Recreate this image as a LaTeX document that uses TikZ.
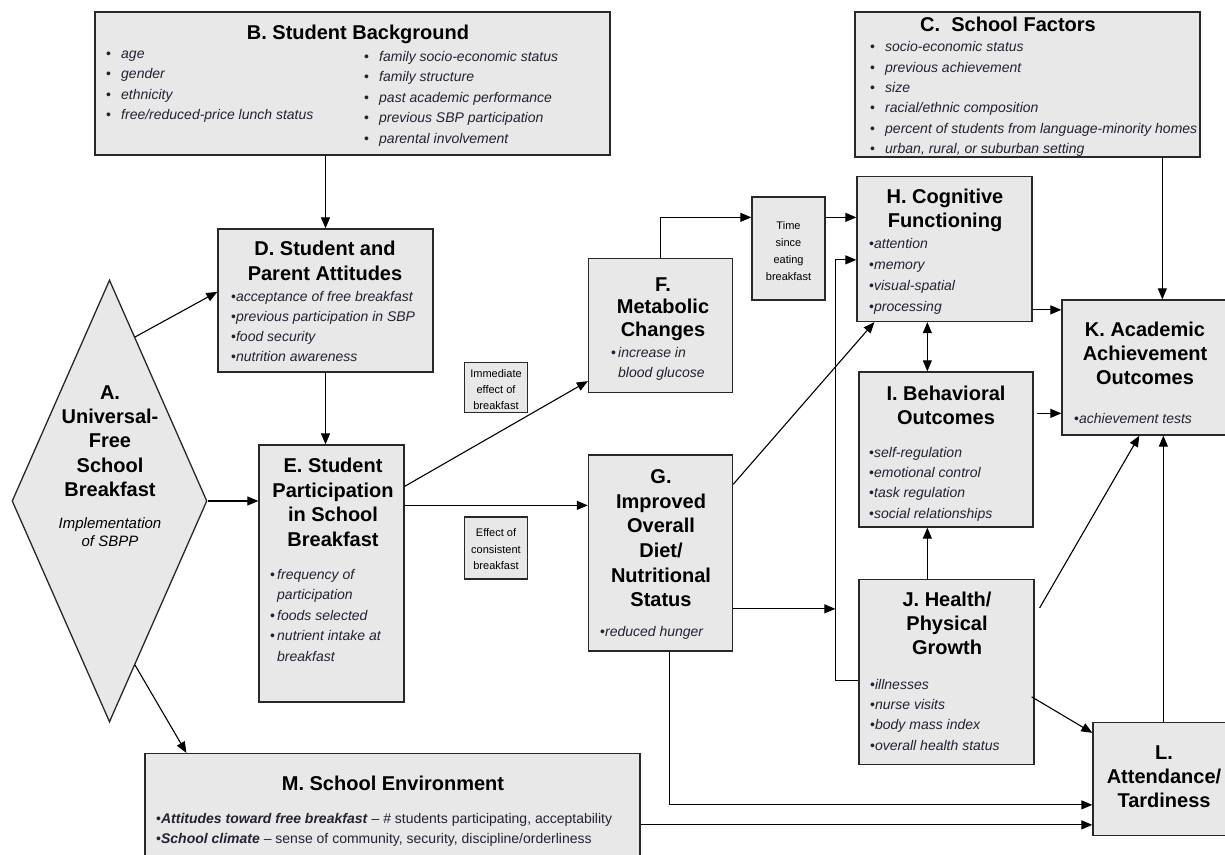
\documentclass[tikz,border=0pt]{standalone}
\usepackage{fontspec}
\setmainfont{Liberation Sans}
\usetikzlibrary{arrows.meta,calc,shapes.geometric}
\definecolor{boxfill}{RGB}{232,232,232}
\definecolor{boxline}{RGB}{40,40,40}
\definecolor{listtext}{RGB}{34,34,50}
\newcommand\blw{{\upshape\makebox[15pt][l]{•}}}
\newcommand\bln{{\upshape\makebox[7pt][l]{•}}}
\newcommand\blt{{\upshape•}}
\begin{document}
\begin{tikzpicture}[x=1pt,y=-1pt,
  box/.style={draw=boxline, fill=boxfill, line width=1.3pt, inner sep=0pt, rectangle},
  dia/.style={draw=boxline, fill=boxfill, line width=1.3pt, inner sep=0pt, diamond},
  ttl/.style={font=\fontsize{20}{24.5}\selectfont\bfseries, align=center, inner sep=0pt, anchor=north, execute at begin node=\strut},
  lst/.style={font=\fontsize{14}{20.5}\selectfont\itshape, text=listtext, align=left, inner sep=0pt, anchor=north west, execute at begin node=\strut},
  sml/.style={font=\fontsize{11}{17}\selectfont, align=center, inner sep=0pt, anchor=north, execute at begin node=\strut},
  arr/.style={draw=black, line width=1.1pt, -{Triangle[length=11pt,width=9pt]}},
  arrboth/.style={draw=black, line width=1.1pt, {Triangle[length=11pt,width=9pt]}-{Triangle[length=11pt,width=9pt]}},
]
\useasboundingbox (0,0) rectangle (1225,854);

% ---------- boxes ----------
\node[box, minimum width=515pt, minimum height=143pt] (B) at (352.5,83.5) {};
\node[box, minimum width=345pt, minimum height=145pt] (C) at (1027.5,84.5) {};
\node[box, minimum width=215pt, minimum height=143pt] (D) at (325.5,300.5) {};
\node[box, minimum width=145pt, minimum height=257pt] (E) at (331.5,573.5) {};
\node[box, minimum width=144pt, minimum height=134pt] (F) at (660.5,325.5) {};
\node[box, minimum width=73pt, minimum height=103pt] (T) at (788.5,248.5) {};
\node[box, minimum width=63pt, minimum height=50pt] (Im) at (496,387.5) {};
\node[box, minimum width=63pt, minimum height=62pt] (Ef) at (496,548) {};
\node[box, minimum width=144pt, minimum height=196pt] (G) at (660.5,553) {};
\node[box, minimum width=175pt, minimum height=145pt] (H) at (944.5,249) {};
\node[box, minimum width=174pt, minimum height=155pt] (I) at (946,449.5) {};
\node[box, minimum width=175pt, minimum height=185pt] (J) at (946.5,672) {};
\node[box, minimum width=180pt, minimum height=135pt] (K) at (1152,367.5) {};
\node[box, minimum width=150pt, minimum height=113pt] (L) at (1168,779) {};
\node[box, minimum width=495pt, minimum height=120pt] (M) at (392.5,813.5) {};
\node[dia, minimum width=195pt, minimum height=442pt] (A) at (109.5,501) {};

% ---------- connector points ----------
\coordinate (ad) at ($(A.north)!0.26!(A.east)$);
\coordinate (da) at ($(D.north west)!0.44!(D.south west)$);
\coordinate (am) at ($(A.east)!0.74!(A.south)$);
\coordinate (ma) at ($(M.north west)+(42,0)$);
\coordinate (ef) at ($(E.north east)+(0,42)$);
\coordinate (fe) at ($(F.south west)+(0,-12)$);
\coordinate (eg) at ($(E.north east)+(0,61)$);
\coordinate (ft) at ($(T.north west)+(0,21)$);
\coordinate (th) at ($(T.north east)+(0,21)$);
\coordinate (jv) at ($(J.north west)+(0,102)$);
\coordinate (hv) at ($(H.north west)+(0,84)$);
\coordinate (gh) at ($(G.north east)+(0,30)$);
\coordinate (hg) at ($(H.south west)+(18,0)$);
\coordinate (gj) at ($(J.north west)+(-23,30)$);
\coordinate (gl) at ($(G.south)+(9,0)$);
\coordinate (lg) at ($(L.north west)+(0,83)$);
\coordinate (ml) at ($(M.north east)+(0,72)$);
\coordinate (hk) at ($(H.north east)+(0,134)$);
\coordinate (hi) at ($(H.south west)+(71,0)$);
\coordinate (ik) at ($(I.north east)+(3,42)$);
\coordinate (ji) at ($(J.north west)+(69,0)$);
\coordinate (jk) at ($(J.north east)+(5,29)$);
\coordinate (kj) at ($(K.south west)+(78,0)$);
\coordinate (lk) at ($(L.north west)+(71,0)$);
\coordinate (ck) at ($(C.south west)+(308,0)$);
\coordinate (jl) at ($(J.north east)+(-3,118)$);
\coordinate (lj) at ($(L.north west)+(0,11)$);

% ---------- connectors ----------
\draw[arr] (B.south -| D.north) -- (D.north);
\draw[arr] (D.south) -- (D.south |- E.north);
\draw[arr] (ad) -- (da);
\draw[arr] (A.east) -- (A.east -| E.west);
\draw[arr] (am) -- (ma);
\draw[arr] (ef) -- (fe);
\draw[arr] (eg) -- (eg -| G.west);
\draw[arr] (F.north) |- (ft);
\draw[arr] (th) -- (th -| H.west);
\draw[arr] (jv) -- (jv -| gj) |- (hv);
\draw[arr] (gh) -- (hg);
\draw[arr] (G.east |- gj) -- (gj);
\draw[arr] (gl) |- (lg);
\draw[arr] (ml) -- (ml -| L.west);
\draw[arr] (hk) -- (hk -| K.west);
\draw[arrboth] (hi) -- (hi |- I.north);
\draw[arr] (ik) -- (ik -| K.west);
\draw[arr] (ji) -- (ji |- I.south);
\draw[arr] (jk) -- (kj);
\draw[arr] (lk) -- (lk |- K.south);
\draw[arr] (ck) -- (ck |- K.north);
\draw[arr] (jl) -- (lj);

% ---------- texts ----------
\node[ttl] (Bt) at (358,22.4) {B. Student Background};
\node[lst] (Bl) at (106,50.7) {\blw age\\ \blw gender\\ \blw ethnicity\\ \blw free/reduced-price lunch status};
\node[lst] (Br) at (364,50.7) {\blw family socio-economic status\\ \blw family structure\\ \blw past academic performance\\ \blw previous SBP participation\\ \blw parental involvement};

\node[ttl] (Ct) at (1008,14) {C.\ \ School Factors};
\node[lst, font=\fontsize{14}{20.4}\selectfont\itshape] (Cl) at (870,41.4) {\blw socio-economic status\\ \blw previous achievement\\ \blw size\\ \blw racial/ethnic composition\\ \blw percent of students from language-minority homes\\ \blw urban, rural, or suburban setting};

\node[ttl] (Dt) at (325,241) {D. Student and\\ Parent Attitudes};
\node[lst, font=\fontsize{14}{20}\selectfont\itshape] (Dl) at (231,290.9) {\blt acceptance of free breakfast\\ \blt previous participation in SBP\\ \blt food security\\ \blt nutrition awareness};

\node[ttl] (Et) at (333,457.9) {E. Student\\ Participation\\ in School\\ Breakfast};
\node[lst] (El) at (270,569) {\bln frequency of\\ \hspace*{7pt}participation\\ \bln foods selected\\ \bln nutrient intake at\\ \hspace*{7pt}breakfast};

\node[ttl, font=\fontsize{20}{22.5}\selectfont\bfseries] (Ft) at (663,277.5) {F.\\ Metabolic\\ Changes};
\node[lst, font=\fontsize{14}{20}\selectfont\itshape] (Fl) at (611,346.7) {\bln increase in\\ \hspace*{7pt}blood glucose};

\node[sml] (Tt) at (788.5,221.8) {Time\\ since\\ eating\\ breakfast};
\node[sml, font=\fontsize{11}{16}\selectfont] (Imt) at (496,369.5) {Immediate\\ effect of\\ breakfast};
\node[sml, font=\fontsize{11}{16.5}\selectfont] (Eft) at (496,528.5) {Effect of\\ consistent\\ breakfast};

\node[ttl, font=\fontsize{20}{24.6}\selectfont\bfseries] (Gt) at (661,469.5) {G.\\ Improved\\ Overall\\ Diet/\\ Nutritional\\ Status};
\node[lst] (Gl) at (600,622.4) {\blt reduced hunger};

\node[ttl, font=\fontsize{20}{24}\selectfont\bfseries] (Ht) at (945,188.5) {H. Cognitive\\ Functioning};
\node[lst, font=\fontsize{14}{20.8}\selectfont\itshape] (Hl) at (869,238.5) {\blt attention\\ \blt memory\\ \blt visual-spatial\\ \blt processing};

\node[ttl, font=\fontsize{20}{24}\selectfont\bfseries] (It) at (946,385.5) {I. Behavioral\\ Outcomes};
\node[lst, font=\fontsize{14}{20.3}\selectfont\itshape] (Il) at (869,447) {\blt self-regulation\\ \blt emotional control\\ \blt task regulation\\ \blt social relationships};

\node[ttl, font=\fontsize{20}{24}\selectfont\bfseries] (Jt) at (947,592.2) {J. Health/\\ Physical\\ Growth};
\node[lst, font=\fontsize{14}{20.3}\selectfont\itshape] (Jl) at (870,679) {\blt illnesses\\ \blt nurse visits\\ \blt body mass index\\ \blt overall health status};

\node[ttl, font=\fontsize{20}{24}\selectfont\bfseries] (Kt) at (1145,321.5) {K. Academic\\ Achievement\\ Outcomes};
\node[lst] (Kl) at (1074,409) {\blt achievement tests};

\node[ttl, font=\fontsize{20}{24}\selectfont\bfseries] (Lt) at (1164,745.2) {L.\\ Attendance/\\ Tardiness};

\node[ttl] (Mt) at (393,773) {M. School Environment};
\node[lst, font=\fontsize{14}{20}\selectfont\upshape] (Ml) at (156,813) {•\textbf{\textit{Attitudes toward free breakfast}} – \# students participating, acceptability\\ •\textbf{\textit{School climate}} – sense of community, security, discipline/orderliness};

\node[ttl, font=\fontsize{20}{24.3}\selectfont\bfseries] (At) at (110,385.3) {A.\\ Universal-\\ Free\\ School\\ Breakfast};
\node[ttl, font=\fontsize{15}{18.5}\selectfont\itshape] (Ai) at (110,517.4) {Implementation\\ of SBPP};
\end{tikzpicture}
\end{document}
